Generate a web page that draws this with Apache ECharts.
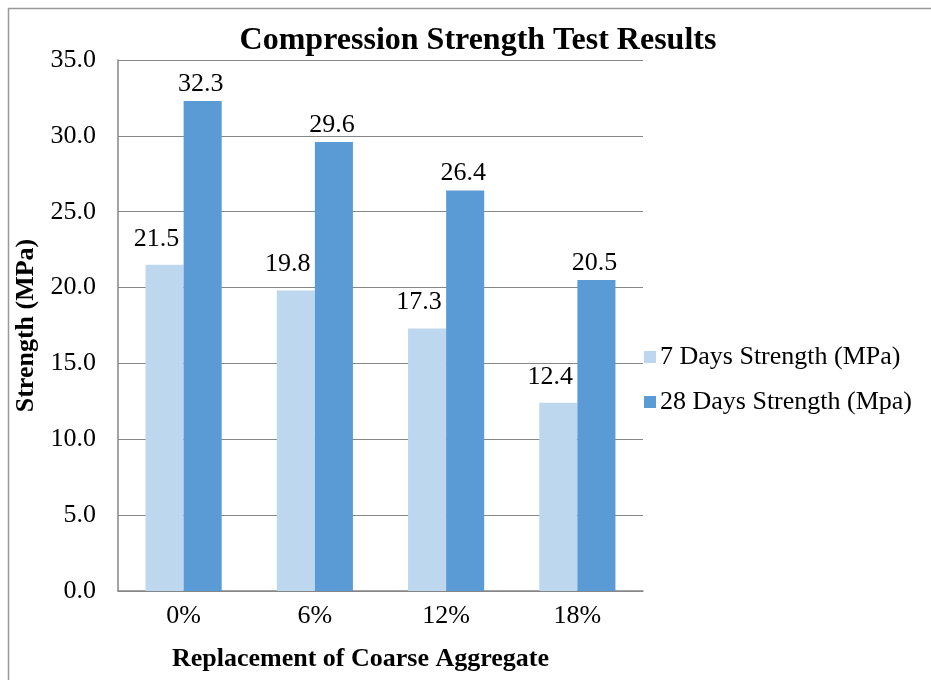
<!DOCTYPE html>
<html>
<head>
<meta charset="utf-8">
<title>Compression Strength Test Results</title>
<script src="https://cdn.jsdelivr.net/npm/echarts@6/dist/echarts.min.js"></script>
<style>
    html, body { margin: 0; padding: 0; background: #fff; }
    #chart { width: 931px; height: 680px; }
</style>
</head>
<body>
<div id="chart"></div>
<script>
// Chart data
const categories = ['0%', '6%', '12%', '18%'];
const days7 = [21.5, 19.8, 17.3, 12.4];
const days28 = [32.3, 29.6, 26.4, 20.5];
const seriesNames = ['7 Days Strength (MPa)', '28 Days Strength (Mpa)'];

const serif = '"Liberation Serif", "DejaVu Serif", serif';

const chart = echarts.init(document.getElementById('chart'));

// labels above bars, one decimal
const makeLabel = (distance, offset) => ({
    show: true,
    position: 'top',
    distance: distance,
    offset: offset,
    color: '#000',
    fontFamily: serif,
    fontSize: 26,
    formatter: p => p.value.toFixed(1)
});

chart.setOption({
    animation: false,
    textStyle: { fontFamily: serif },
    // outer chart border
    graphic: [{
        type: 'rect',
        shape: { x: 8.5, y: 8.5, width: 1000, height: 1000 },
        style: { fill: 'none', stroke: '#999', lineWidth: 1.5 },
        silent: true
    }],
    title: {
        text: 'Compression Strength Test Results',
        left: 473,
        textAlign: 'center',
        top: 20,
        textStyle: { fontFamily: serif, fontWeight: 'bold', fontSize: 32, color: '#000' }
    },
    legend: {
        orient: 'vertical',
        left: 639,
        top: 339,
        itemGap: 19,
        itemWidth: 12,
        itemHeight: 12,
        icon: 'rect',
        textStyle: { fontFamily: serif, fontSize: 26, color: '#000', padding: [0, 0, 0, -1] },
        data: seriesNames
    },
    grid: { left: 118, right: 288, top: 60, bottom: 89 },
    xAxis: {
        type: 'category',
        data: categories,
        name: 'Replacement of Coarse Aggregate',
        nameLocation: 'middle',
        nameGap: 55,
        nameTextStyle: { fontFamily: serif, fontWeight: 'bold', fontSize: 26, color: '#000', padding: [0, 40, 0, 0] },
        axisLine: { lineStyle: { color: '#868686', width: 1.5 } },
        axisTick: { show: false },
        axisLabel: { fontFamily: serif, fontSize: 26, color: '#000', margin: 12 }
    },
    yAxis: {
        type: 'value',
        min: 0,
        max: 35,
        interval: 5,
        name: 'Strength (MPa)',
        nameLocation: 'middle',
        nameGap: 74,
        nameTextStyle: { fontFamily: serif, fontWeight: 'bold', fontSize: 26, color: '#000' },
        axisLine: { show: true, lineStyle: { color: '#868686', width: 1.5 } },
        axisTick: { show: false },
        axisLabel: { fontFamily: serif, fontSize: 26, color: '#000', margin: 22, formatter: v => v.toFixed(1) },
        splitLine: { lineStyle: { color: '#868686', width: 1.2 } }
    },
    series: [
        {
            name: seriesNames[0],
            type: 'bar',
            data: days7,
            barGap: '0%',
            barCategoryGap: '42%',
            itemStyle: { color: '#BDD7EE' },
            label: makeLabel(13, [-8, 0])
        },
        {
            name: seriesNames[1],
            type: 'bar',
            data: days28,
            barGap: '0%',
            barCategoryGap: '42%',
            itemStyle: { color: '#5B9BD5' },
            label: makeLabel(4, [-2, 0])
        }
    ]
});
</script>
</body>
</html>
